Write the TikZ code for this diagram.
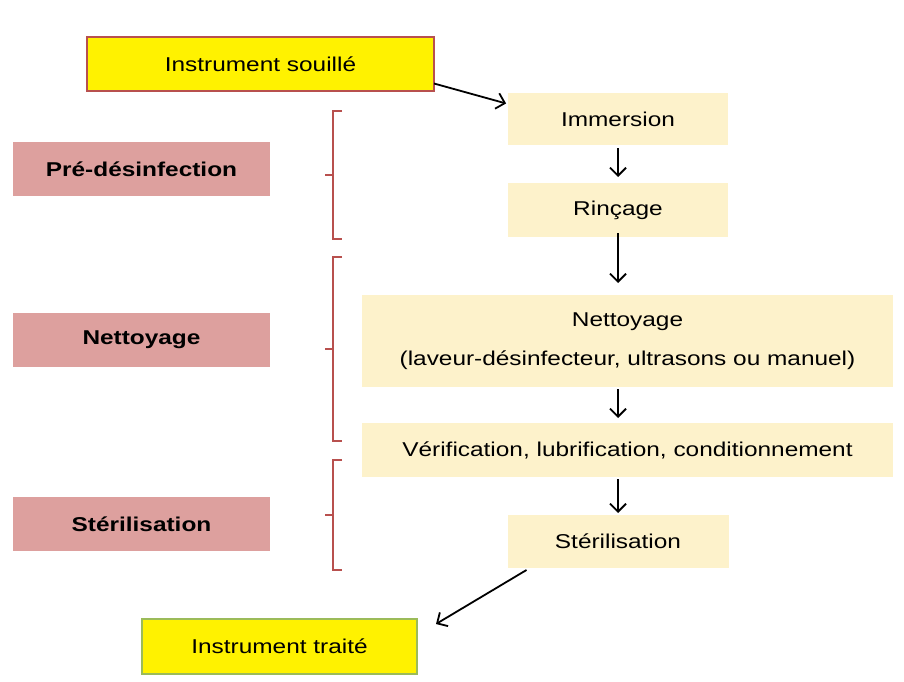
\documentclass[tikz,border=0pt]{standalone}
\usepackage{fontspec}
\setmainfont{Liberation Sans}[FakeStretch=1.22]
\usepackage{xcolor}
\usetikzlibrary{arrows.meta,positioning}
\definecolor{cream}{HTML}{FDF2CB}
\definecolor{rose}{HTML}{DDA09E}
\definecolor{brick}{HTML}{B8504E}
\definecolor{olive}{HTML}{9BBB59}

\begin{document}
\begin{tikzpicture}[x=1pt,y=-1pt,outer sep=0pt,inner sep=0pt,font=\fontsize{20}{24}\selectfont]
\tikzstyle{etape}=[fill=cream, text centered]
\tikzstyle{phase}=[fill=rose, font=\fontsize{20}{24}\selectfont\bfseries,
    minimum width=257pt, minimum height=54pt]
\tikzstyle{bout}=[fill=yellow, line width=2pt]
\tikzstyle{fleche}=[-{Straight Barb[length=8pt,width=16pt]}, line width=1.8pt]
\tikzstyle{crochet}=[draw=brick, line width=1.3pt]
    \useasboundingbox (0,0) rectangle (904,682);
    \node (souille) [bout,draw=brick,minimum width=347pt,minimum height=54pt] at (260.5,64.5) {Instrument souillé};
    \node (immersion) [etape,minimum width=220pt,minimum height=52pt] at (618,119) {Immersion};
    \node (rincage) [etape,below=38pt of immersion,minimum width=220pt,minimum height=54pt] {Rinçage};
    \node (nettoyage) [etape,align=center,minimum width=531pt,minimum height=92pt] at (627.5,341) {Nettoyage\\[15pt](laveur-désinfecteur, ultrasons ou manuel)};
    \node (verif) [etape,minimum width=531pt,minimum height=54pt] at (627.5,450) {Vérification, lubrification, conditionnement};
    \node (sterilisation) [etape,minimum width=221pt,minimum height=53pt] at (618,541.5) {Stérilisation};
    \node (traite) [bout,draw=olive,minimum width=275pt,minimum height=55pt] at (279.5,646.5) {Instrument traité};
    \node (predes) [phase] at (141.5,169) {Pré-désinfection};
    \node (pnett) [phase] at (141.5,340) {Nettoyage};
    \node (psteril) [phase] at (141.5,524) {Stérilisation};
    \draw [fleche,shorten >=2pt] ([yshift=8pt]souille.south east) -- ([yshift=-11pt]immersion.north west);
    \draw [fleche,shorten <=3pt,shorten >=6pt] (immersion.south) -- (rincage.north);
    \draw [fleche,shorten >=12pt] ([yshift=4pt]rincage.south) -- (rincage.south |- nettoyage.north);
    \draw [fleche,shorten <=2pt,shorten >=5pt] (rincage.south |- nettoyage.south) -- (rincage.south |- verif.north);
    \draw [fleche,shorten <=2pt,shorten >=2pt] (sterilisation.north |- verif.south) -- (sterilisation.north);
    \draw [fleche] ([shift={(19,2)}]sterilisation.south west) -- ([shift={(19,5)}]traite.north east);
    \foreach \haut/\milieu/\bas in {111/175/239, 257/349/441, 460/515/570}
        \draw [crochet] (342,\haut) -- (333,\haut) -- (333,\bas) -- (342,\bas) (333,\milieu) -- (325,\milieu);
\end{tikzpicture}
\end{document}
